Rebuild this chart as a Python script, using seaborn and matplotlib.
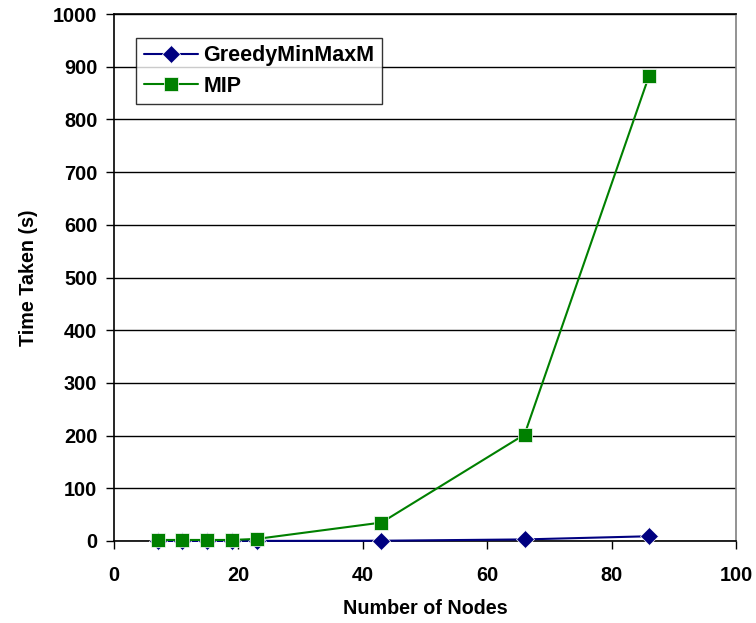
import numpy as np
import pandas as pd
import matplotlib
matplotlib.use("Agg")
import matplotlib.pyplot as plt
import seaborn as sns

nodes = [7, 11, 15, 19, 23, 43, 66, 86]
greedy = [0.1, 0.1, 0.1, 0.1, 0.2, 0.5, 3, 9]
mip = [2, 2, 2, 2, 4, 35, 202, 882]
series_names = ["GreedyMinMaxM", "MIP"]
x_ticks = [0, 20, 40, 60, 80, 100]
y_ticks = [0, 100, 200, 300, 400, 500, 600, 700, 800, 900, 1000]

df = pd.DataFrame({
    "Nodes": nodes * 2,
    "Time": greedy + mip,
    "Series": [series_names[0]] * len(nodes) + [series_names[1]] * len(nodes),
})

sns.set_theme(style="white")
plt.rcParams['font.family'] = ['Liberation Sans', 'DejaVu Sans']
plt.rcParams['font.weight'] = 'bold'
plt.rcParams['text.color'] = 'black'
plt.rcParams['axes.labelcolor'] = 'black'
plt.rcParams['xtick.color'] = 'black'
plt.rcParams['ytick.color'] = 'black'
plt.rcParams['xtick.major.size'] = 6
plt.rcParams['ytick.major.size'] = 6
plt.rcParams['xtick.bottom'] = True
plt.rcParams['ytick.left'] = True

fig = plt.figure(figsize=(7.56, 6.23), dpi=100)
ax = fig.add_axes([114/756, 1 - 541/623, (736-114)/756, (541-14)/623])

palette = {"GreedyMinMaxM": "#000080", "MIP": "#008000"}
markers = {"GreedyMinMaxM": "D", "MIP": "s"}
sns.lineplot(data=df, x="Nodes", y="Time", hue="Series", style="Series",
             markers=markers, dashes=False, palette=palette, ax=ax,
             markersize=9.5, linewidth=1.5, markeredgewidth=0.5, legend=True,
             clip_on=False, zorder=5)

ax.set_xlim(0, 100)
ax.set_ylim(0, 1000)
ax.set_xticks(x_ticks)
ax.set_yticks(y_ticks)
ax.set_xticklabels([str(v) for v in x_ticks], fontsize=14.3, fontweight='bold')
ax.set_yticklabels([str(v) for v in y_ticks], fontsize=14.3, fontweight='bold')
ax.tick_params(axis='both', direction='out', length=6, width=1, color='black',
               bottom=True, left=True)
ax.tick_params(axis='x', pad=12)
ax.tick_params(axis='y', pad=6)
ax.yaxis.grid(True, color='black', linewidth=1)
ax.xaxis.grid(False)
ax.set_axisbelow(True)
for s in ['left', 'bottom', 'top']:
    ax.spines[s].set_color('black')
    ax.spines[s].set_linewidth(1.2)
ax.spines['right'].set_color('#808080')
ax.spines['right'].set_linewidth(1.2)

ax.set_xlabel("Number of Nodes", fontsize=14.2, fontweight='bold', labelpad=10)
ax.set_ylabel("Time Taken (s)", fontsize=14.2, fontweight='bold', labelpad=11)

leg = ax.legend(title=None, loc='upper left', bbox_to_anchor=(0.036, 0.955),
                frameon=True, fancybox=False, edgecolor='black',
                prop={'weight': 'bold', 'size': 15.5}, handlelength=2.5,
                handletextpad=0.25, borderpad=0.35, labelspacing=0.45,
                borderaxespad=0)
leg.get_frame().set_linewidth(1)

fig.savefig("out.png", dpi=100, facecolor='white')
